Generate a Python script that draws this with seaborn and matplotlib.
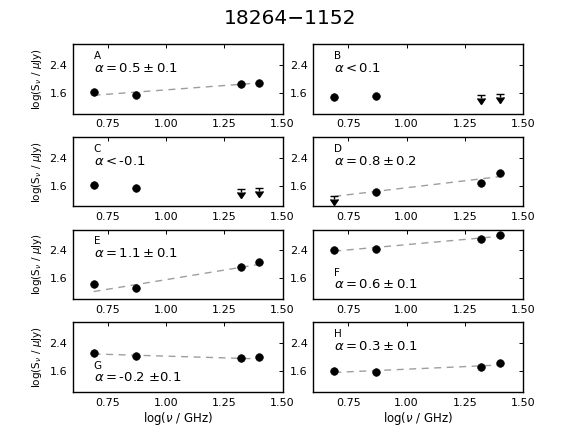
import numpy as np
import pandas as pd
import matplotlib
matplotlib.use('Agg')
import matplotlib.pyplot as plt
import seaborn as sns

# log frequency of the four bands (GHz)
log_nu = [0.69, 0.87, 1.32, 1.40]

labels = ['A', 'B', 'C', 'D', 'E', 'F', 'G', 'H']
alpha_text = [r'$\alpha=0.5\pm0.1$', r'$\alpha<0.1$', r'$\alpha<$-0.1', r'$\alpha=0.8\pm0.2$',
              r'$\alpha=1.1\pm0.1$', r'$\alpha=0.6\pm0.1$', r'$\alpha=$-0.2 $\pm$0.1', r'$\alpha=0.3\pm0.1$']

# log flux density per panel, and which points are upper limits
flux_A = [1.62, 1.54, 1.86, 1.87]
flux_B = [1.48, 1.50, 1.54, 1.56]
flux_C = [1.63, 1.53, 1.51, 1.53]
flux_D = [1.30, 1.41, 1.68, 1.95]
flux_E = [1.44, 1.33, 1.92, 2.07]
flux_F = [2.42, 2.43, 2.72, 2.83]
flux_G = [2.11, 2.03, 1.96, 1.99]
flux_H = [1.60, 1.57, 1.73, 1.83]

ulim_A = [False, False, False, False]
ulim_B = [False, False, True, True]
ulim_C = [False, False, True, True]
ulim_D = [True, False, False, False]
ulim_E = [False, False, False, False]
ulim_F = [False, False, False, False]
ulim_G = [False, False, False, False]
ulim_H = [False, False, False, False]

# fitted spectral index and fit value at the first frequency (None = no fit)
fit_alpha = [0.5, None, None, 0.8, 1.1, 0.6, -0.2, 0.3]
fit_start = [1.53, None, None, 1.29, 1.22, 2.38, 2.09, 1.56]

fluxes = [flux_A, flux_B, flux_C, flux_D, flux_E, flux_F, flux_G, flux_H]
ulims = [ulim_A, ulim_B, ulim_C, ulim_D, ulim_E, ulim_F, ulim_G, ulim_H]
text_at_bottom = [False, False, False, False, False, True, True, False]

sns.set_style('white')
plt.rcParams['font.family'] = ['DejaVu Sans']
plt.rcParams['mathtext.fontset'] = 'dejavusans'
for key in ['text.color', 'axes.labelcolor', 'xtick.color', 'ytick.color']:
    plt.rcParams[key] = 'black'

fig, axes = plt.subplots(4, 2, figsize=(5.81, 4.36), dpi=100)
fig.subplots_adjust(left=0.125, right=0.9007, bottom=0.101, top=0.899,
                    wspace=0.146, hspace=0.33)

for i, ax in enumerate(axes.flat):
    df = pd.DataFrame({'x': log_nu, 'y': fluxes[i], 'ul': ulims[i]})
    det = df[~df['ul']]
    lim = df[df['ul']]

    if fit_alpha[i] is not None:
        x0, x1 = log_nu[0], log_nu[-1]
        fit = pd.DataFrame({'x': [x0, x1],
                            'y': [fit_start[i], fit_start[i] + fit_alpha[i] * (x1 - x0)]})
        sns.lineplot(data=fit, x='x', y='y', ax=ax, color='0.62', linestyle=(0, (5, 4)),
                     linewidth=1.0, zorder=1)

    sns.scatterplot(data=det, x='x', y='y', ax=ax, color='black', s=30,
                    edgecolor='black', linewidth=0.5, zorder=3)
    if len(lim):
        eb = ax.errorbar(lim['x'], lim['y'], yerr=0.08, uplims=True, fmt='none',
                         ecolor='black', capsize=2.8, elinewidth=1.0, capthick=1.0)
        for cl in eb[1]:
            cl.set_markerfacecolor('black')
            cl.set_markeredgecolor('black')

    ax.set_xlim(0.6, 1.5)
    ax.set_ylim(1.0, 3.0)
    ax.set_xticks([0.75, 1.00, 1.25, 1.50])
    ax.set_xticklabels(['0.75', '1.00', '1.25', '1.50'])
    ax.set_yticks([1.6, 2.4])
    ax.set_yticklabels(['1.6', '2.4'])
    ax.tick_params(labelsize=8, length=3, width=0.7, top=True, right=True,
                   direction='in', pad=4, colors='black')
    for sp in ax.spines.values():
        sp.set_linewidth(1.0)
        sp.set_color('black')

    ax.set_xlabel('')
    ax.set_ylabel('')
    if i % 2 == 0:
        ax.set_ylabel(r'log(S$_\nu$ / $\mu$Jy)', fontsize=7.5)
    if i >= 6:
        ax.set_xlabel(r'log($\nu$ / GHz)', fontsize=8.5, labelpad=2)

    if text_at_bottom[i]:
        y_let, y_alp = 0.335, 0.155
    else:
        y_let, y_alp = 0.785, 0.60
    ax.text(0.1, y_let, labels[i], transform=ax.transAxes, fontsize=7.5, va='baseline')
    ax.text(0.1, y_alp, alpha_text[i], transform=ax.transAxes, fontsize=9.5, va='baseline')

fig.suptitle('18264\u22121152', fontsize=14.5, y=0.958, va='center', color='black')
fig.savefig('out.png', dpi=100)
